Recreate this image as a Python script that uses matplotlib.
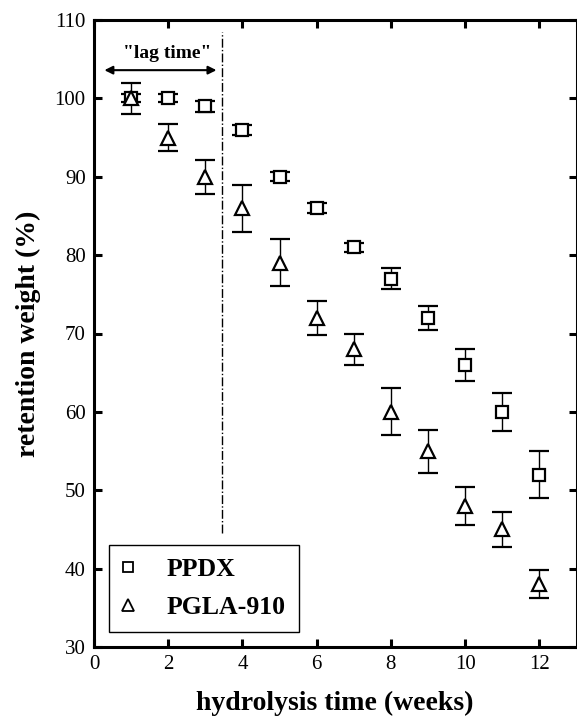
import matplotlib
matplotlib.use("Agg")
import matplotlib.pyplot as plt
from matplotlib.lines import Line2D

weeks = [1, 2, 3, 4, 5, 6, 7, 8, 9, 10, 11, 12]
ppdx = [100, 100, 99, 96, 90, 86, 81, 77, 72, 66, 60, 52]
ppdx_err = [0.5, 0.5, 0.7, 0.65, 0.6, 0.65, 0.6, 1.3, 1.5, 2.0, 2.4, 3.0]
pgla = [100, 95, 90, 86, 79, 72, 68, 60, 55, 48, 45, 38]
pgla_err = [2.0, 1.7, 2.2, 3.0, 3.0, 2.2, 2.0, 3.0, 2.75, 2.4, 2.25, 1.8]
xticks = [0, 2, 4, 6, 8, 10, 12]
yticks = [30, 40, 50, 60, 70, 80, 90, 100, 110]

plt.rcParams['font.family'] = ['Liberation Serif', 'DejaVu Serif']

fig = plt.figure(figsize=(5.77, 7.19), dpi=100)
ax = fig.add_axes([94/577, 1 - 647/719, (576.5 - 94)/577, (647 - 20)/719])

ax.errorbar(weeks, ppdx, yerr=ppdx_err, fmt='s', ms=8, mfc='white', mec='black',
            mew=1.6, ecolor='black', elinewidth=1.0, capsize=7, capthick=1.3, zorder=3)
ax.errorbar(weeks, pgla, yerr=pgla_err, fmt='^', ms=10, mfc='white', mec='black',
            mew=1.6, ecolor='black', elinewidth=1.0, capsize=7, capthick=1.3, zorder=3)

ax.plot([3.45, 3.45], [44.6, 108.5], color='black', lw=1.0, ls='-.', zorder=2)
ax.annotate('', xy=(0.28, 103.6), xytext=(3.3, 103.6),
            arrowprops=dict(arrowstyle='<|-|>', color='black', lw=1.5,
                            mutation_scale=12, shrinkA=0, shrinkB=0))
ax.text(1.97, 105.7, '"lag time"', ha='center', va='center', fontsize=14,
        fontweight='bold')

ax.set_xlim(0, 13)
ax.set_ylim(30, 110)
ax.set_xticks(xticks)
ax.set_yticks(yticks)
ax.tick_params(direction='in', length=6, width=2.2, top=True, right=True,
               labelsize=15, pad=6)
for s in ax.spines.values():
    s.set_linewidth(2.2)

ax.set_xlabel('hydrolysis time (weeks)', fontsize=20, fontweight='bold', labelpad=12)
ax.set_ylabel('retention weight (%)', fontsize=20, fontweight='bold', labelpad=10)

handles = [Line2D([], [], ls='none', marker='s', ms=7, mfc='white', mec='black', mew=1.3),
           Line2D([], [], ls='none', marker='^', ms=8, mfc='white', mec='black', mew=1.3)]
leg = ax.legend(handles, ['PPDX', 'PGLA-910'], loc='lower left',
                bbox_to_anchor=((109 - 94) / 482.5, (647 - 632) / 627),
                prop={'size': 18.5, 'weight': 'bold'}, frameon=True, fancybox=False,
                edgecolor='black', framealpha=1, borderpad=0.5, handletextpad=1.25,
                labelspacing=0.6, handlelength=0.5, borderaxespad=0)
leg.get_frame().set_linewidth(1.0)

fig.savefig('out.png', dpi=100)
